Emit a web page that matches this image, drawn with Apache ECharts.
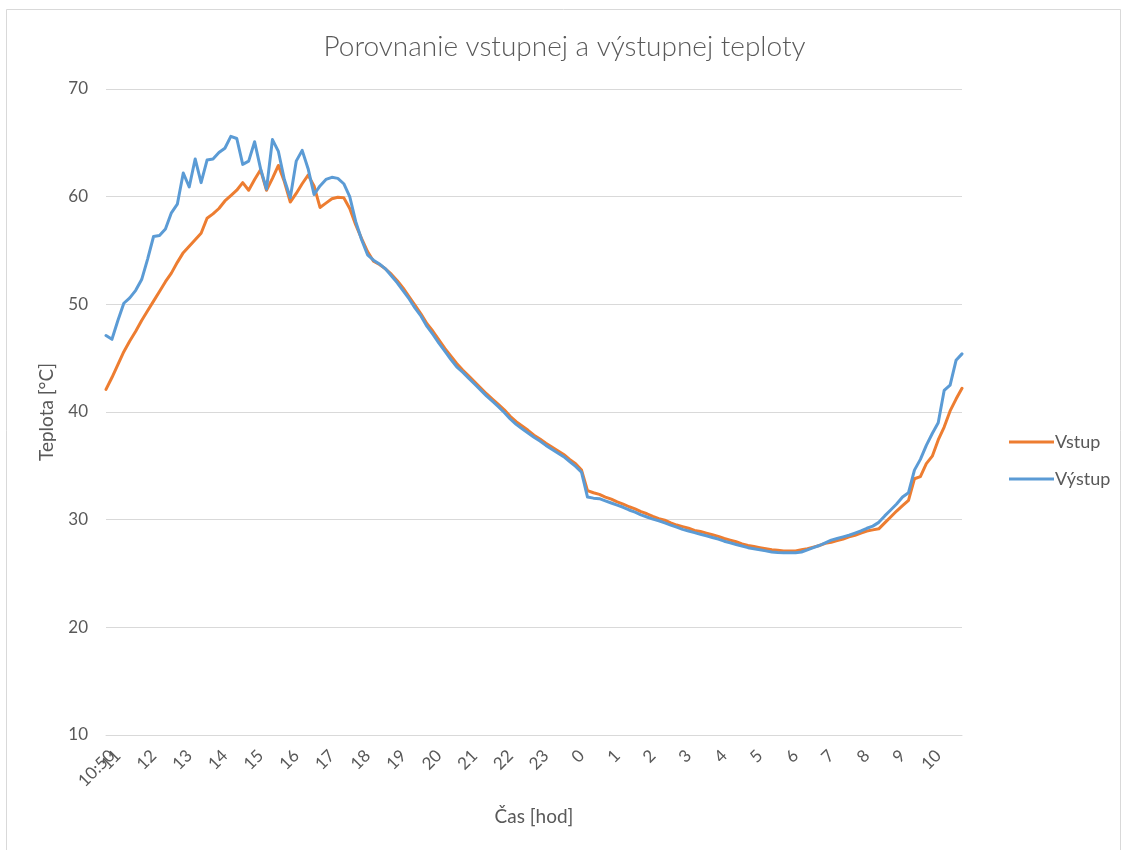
<!DOCTYPE html>
<html>
<head>
<meta charset="utf-8">
<script src="https://cdn.jsdelivr.net/npm/echarts@6/dist/echarts.min.js"></script>
<style>
  html, body { margin: 0; padding: 0; background: #ffffff; }
  #chart { width: 1129px; height: 850px; }
</style>
</head>
<body>
<div id="chart"></div>
<script>
// Measurement start and sampling step (one reading every 10 minutes)
const startHour = 10;
const startMinute = 50;
const stepMinutes = 10;

// Series names
const seriesNames = ['Vstup', 'Výstup'];

// Inlet temperature [°C]
const vstup = [
  42.1, 43.2, 44.4, 45.6, 46.6, 47.5, 48.5, 49.4, 50.3, 51.2,
  52.1, 52.9, 53.9, 54.8, 55.4, 56.0, 56.6, 58.0, 58.4, 58.9,
  59.6, 60.1, 60.6, 61.3, 60.6, 61.6, 62.5, 60.6, 61.7, 62.9,
  61.4, 59.5, 60.3, 61.2, 62.0, 61.0, 59.0, 59.4, 59.8, 59.95,
  59.9, 58.9, 57.4, 56.1, 54.9, 54.0, 53.7, 53.3, 52.8, 52.2,
  51.5, 50.7, 49.9, 49.1, 48.2, 47.5, 46.7, 45.9, 45.2, 44.5,
  43.9, 43.35, 42.8, 42.25, 41.7, 41.2, 40.7, 40.2, 39.6, 39.1,
  38.7, 38.3, 37.85, 37.5, 37.1, 36.75, 36.4, 36.05, 35.6, 35.2,
  34.6, 32.7, 32.5, 32.35, 32.1, 31.9, 31.65, 31.45, 31.2, 31.0,
  30.75, 30.55, 30.3, 30.1, 29.95, 29.7, 29.5, 29.35, 29.2, 29.0,
  28.9, 28.75, 28.6, 28.45, 28.25, 28.1, 27.95, 27.75, 27.6, 27.5,
  27.4, 27.3, 27.2, 27.15, 27.1, 27.1, 27.1, 27.2, 27.3, 27.45,
  27.6, 27.8, 27.9, 28.05, 28.2, 28.4, 28.55, 28.75, 28.95, 29.05,
  29.15, 29.7, 30.25, 30.8, 31.3, 31.8, 33.8, 34.0, 35.2, 35.9,
  37.4, 38.6, 40.1, 41.2, 42.2
];

// Outlet temperature [°C]
const vystup = [
  47.1, 46.75, 48.5, 50.1, 50.6, 51.3, 52.3, 54.2, 56.3, 56.4,
  57.0, 58.5, 59.3, 62.2, 60.9, 63.5, 61.3, 63.4, 63.5, 64.1,
  64.5, 65.6, 65.4, 63.0, 63.3, 65.1, 62.6, 60.7, 65.3, 64.2,
  61.6, 59.9, 63.3, 64.3, 62.6, 60.2, 61.0, 61.6, 61.8, 61.7,
  61.2, 60.0, 57.7, 56.0, 54.6, 54.1, 53.75, 53.3, 52.65, 52.0,
  51.25, 50.5, 49.65, 48.9, 47.95, 47.2, 46.4, 45.65, 44.9, 44.2,
  43.7, 43.15, 42.6, 42.05, 41.5, 41.0, 40.5, 39.95, 39.35, 38.85,
  38.45, 38.05, 37.65, 37.3, 36.9, 36.55, 36.2, 35.85, 35.4, 34.95,
  34.4, 32.1, 32.0, 31.95, 31.75, 31.55, 31.35, 31.15, 30.9, 30.7,
  30.45, 30.25, 30.05, 29.9, 29.7, 29.5, 29.3, 29.1, 28.95, 28.8,
  28.65, 28.5, 28.35, 28.2, 28.0, 27.85, 27.7, 27.55, 27.4, 27.3,
  27.2, 27.1, 27.0, 26.95, 26.93, 26.92, 26.92, 27.0, 27.2, 27.4,
  27.6, 27.85, 28.1, 28.25, 28.4, 28.55, 28.75, 28.95, 29.2, 29.4,
  29.75, 30.35, 30.9, 31.45, 32.1, 32.5, 34.6, 35.6, 36.9, 38.0,
  39.0, 42.0, 42.5, 44.8, 45.4
];

// Y axis ticks
const yMin = 10;
const yMax = 70;
const yStep = 10;

// Time categories HH:MM for every sample
const categories = [];
for (let i = 0; i < vstup.length; i++) {
  const total = (startHour * 60 + startMinute + i * stepMinutes) % (24 * 60);
  const h = Math.floor(total / 60);
  const m = total % 60;
  categories.push(h + ':' + (m < 10 ? '0' + m : String(m)));
}

// Whole hours show the hour number only
function isHour(idx, val) {
  return val.endsWith(':00');
}
function hourText(val) {
  return String(parseInt(val, 10));
}

const textColor = '#595959';
const gridColor = '#d9d9d9';
const fontFamily = 'Lato, "Open Sans", sans-serif';

const labelStyle = {
  rotate: 45,
  hideOverlap: false,
  verticalAlign: 'top',
  margin: 12,
  fontFamily: fontFamily,
  fontSize: 17,
  color: textColor
};

const chart = echarts.init(document.getElementById('chart'), null, { renderer: 'canvas' });

chart.setOption({
  backgroundColor: '#ffffff',
  animation: false,
  textStyle: { fontFamily: fontFamily, color: textColor },
  title: {
    text: 'Porovnanie vstupnej a výstupnej teploty',
    left: 'center',
    top: 28,
    textStyle: { fontFamily: fontFamily, fontSize: 28, fontWeight: 300, color: textColor }
  },
  graphic: [{
    type: 'rect',
    shape: { x: 6.5, y: 9.5, width: 1114, height: 860 },
    style: { fill: 'none', stroke: '#d9d9d9', lineWidth: 1 },
    silent: true
  }],
  legend: {
    orient: 'vertical',
    left: 1004,
    top: 428,
    itemWidth: 45,
    itemHeight: 3,
    itemGap: 19,
    icon: 'rect',
    data: seriesNames,
    textStyle: { fontFamily: fontFamily, fontSize: 18, color: textColor, padding: [0, 0, 0, -4] }
  },
  grid: {
    left: 106,
    right: 167,
    top: 89,
    bottom: 115,
    containLabel: false
  },
  xAxis: [
    {
      // hour labels
      type: 'category',
      data: categories,
      position: 'bottom',
      boundaryGap: false,
      name: 'Čas [hod]',
      nameLocation: 'middle',
      nameGap: 72,
      nameTextStyle: { fontFamily: fontFamily, fontSize: 19, color: textColor },
      axisLine: { show: true, lineStyle: { color: gridColor, width: 1 } },
      axisTick: { show: false },
      axisLabel: Object.assign({ interval: isHour, formatter: hourText, showMinLabel: true }, labelStyle),
      splitLine: { show: false }
    },
    {
      // start time of the measurement
      type: 'category',
      data: categories,
      position: 'bottom',
      offset: 0,
      boundaryGap: false,
      axisLine: { show: false },
      axisTick: { show: false },
      axisLabel: Object.assign({ interval: function (idx) { return idx === 0; }, showMinLabel: true }, labelStyle),
      splitLine: { show: false }
    }
  ],
  yAxis: {
    type: 'value',
    min: yMin,
    max: yMax,
    interval: yStep,
    name: 'Teplota [°C]',
    nameLocation: 'middle',
    nameGap: 50,
    nameRotate: 90,
    nameTextStyle: { fontFamily: fontFamily, fontSize: 19, color: textColor },
    axisLine: { show: false },
    axisTick: { show: false },
    axisLabel: { margin: 18, fontFamily: fontFamily, fontSize: 17, color: textColor },
    splitLine: { lineStyle: { color: gridColor, width: 1 } }
  },
  series: [
    {
      name: seriesNames[0],
      type: 'line',
      xAxisIndex: 0,
      data: vstup,
      showSymbol: false,
      symbol: 'none',
      lineStyle: { color: '#ED7D31', width: 3, join: 'round', cap: 'round' },
      itemStyle: { color: '#ED7D31' }
    },
    {
      name: seriesNames[1],
      type: 'line',
      xAxisIndex: 0,
      data: vystup,
      showSymbol: false,
      symbol: 'none',
      lineStyle: { color: '#5B9BD5', width: 3, join: 'round', cap: 'round' },
      itemStyle: { color: '#5B9BD5' }
    }
  ]
});
</script>
</body>
</html>
